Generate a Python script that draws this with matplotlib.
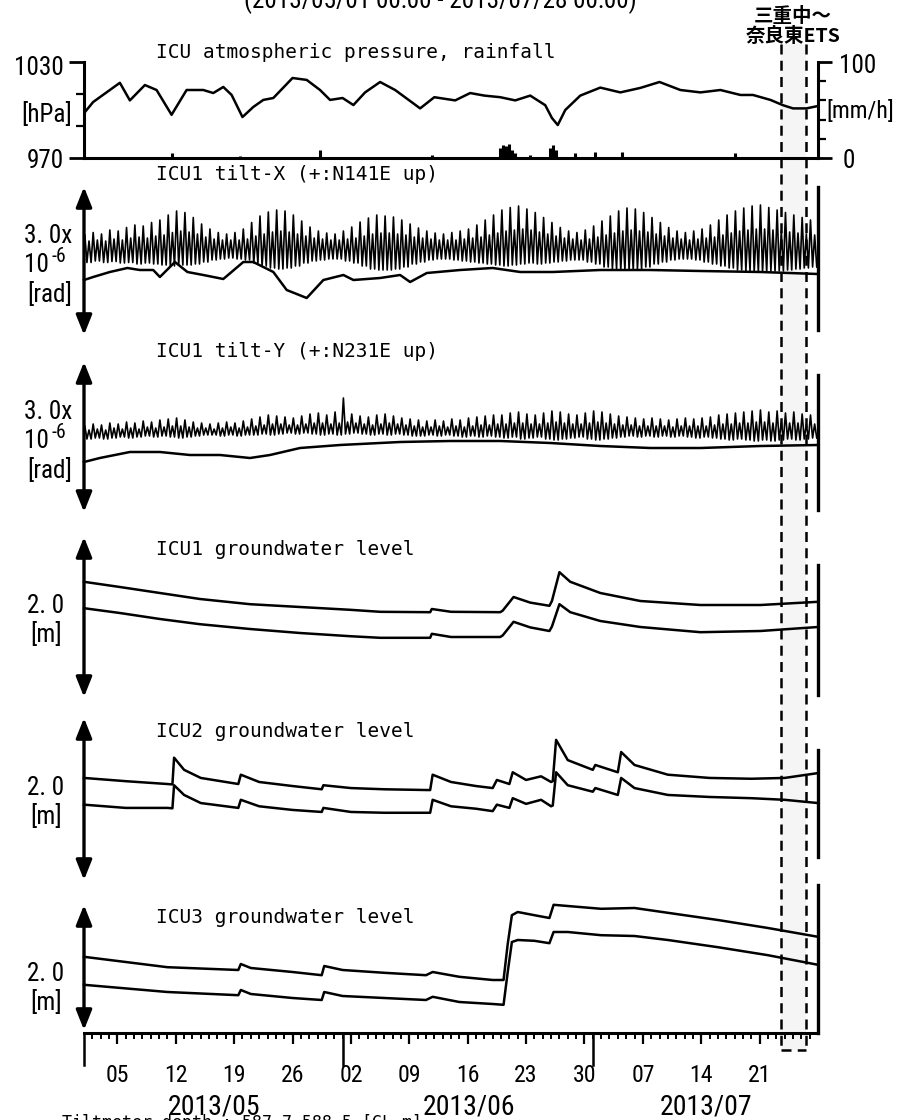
import os
import matplotlib
matplotlib.use('Agg')
import matplotlib.pyplot as plt
import matplotlib.font_manager as fm
import numpy as np
from matplotlib.patches import FancyArrowPatch, Rectangle
from matplotlib.lines import Line2D
from matplotlib.transforms import blended_transform_factory

# ---------------- data ----------------
# time axis: days since 2013/05/01 00:00, up to 2013/07/28 00:00
x_end = 88
week_tick_days = [4, 11, 18, 25, 32, 39, 46, 53, 60, 67, 74, 81]
week_tick_labels = ['05', '12', '19', '26', '02', '09', '16', '23', '30', '07', '14', '21']
month_start_days = [0, 31, 61]
month_labels = ['2013/05', '2013/06', '2013/07']
month_label_days = [15.6, 46.2, 74.6]
ets_start, ets_end = 83.6, 86.6

# atmospheric pressure [hPa]
pres_day = [0, 1.1, 4.3, 5.5, 7.3, 8.7, 10.5, 12.3, 14.3, 15.5, 16.7, 17.7, 19, 20.3, 21.5,
            22.7, 25, 26.7, 28.3, 29.5, 31, 32.3, 33.7, 35.5, 37.3, 39, 40.3, 42, 44.5, 46.3,
            48, 49.9, 51.7, 53.5, 55.3, 56.1, 56.8, 57.7, 59.5, 61.9, 64.3, 66.7, 69, 71.5, 73.9,
            76.3, 78.7, 80.2, 82.3, 83.8, 85, 86.6, 88]
pres_hpa = [998, 1005, 1017, 1006, 1015.6, 1012.5, 997, 1012.5, 1012.5, 1010.6, 1014.4, 1009.4,
            995.6, 1001.9, 1006.3, 1007.5, 1020, 1018.8, 1012.5, 1006.3, 1007.5, 1003.1, 1011,
            1017.5, 1012.5, 1006, 1001, 1008, 1006, 1010.6, 1009, 1008, 1006, 1009, 1003, 995,
            990.6, 1000, 1009, 1014, 1011, 1013.8, 1017.5, 1012.5, 1011, 1012.5, 1009.4, 1009.4,
            1006.3, 1003, 1001, 1001, 1002.5]

# rainfall [mm/h]
rain_day = [10.5, 18.7, 28.3, 41.7, 49.9, 50.2, 50.6, 51.0, 51.3, 51.7, 53.5, 55.9, 56.2, 56.6,
            58.9, 61.3, 64.5, 78.0]
rain_mm = [5, 2, 8, 3, 10, 14, 12, 15, 8, 5, 3, 10, 14, 8, 5, 6, 6, 5]

# tilt-X [micro rad]: daily main high, secondary high and low of the raw record + smoother trace
tiltx_hi = [0.50, 0.55, 0.52, 0.60, 0.58, 0.65, 0.70, 0.68, 0.75, 0.80,
            0.90, 0.98, 0.95, 0.85, 0.72, 0.62, 0.55, 0.52, 0.55, 0.62,
            0.75, 0.88, 0.96, 1.00, 0.98, 0.90, 0.78, 0.66, 0.58, 0.54,
            0.52, 0.58, 0.66, 0.76, 0.84, 0.90, 0.88, 0.86, 0.80, 0.72,
            0.64, 0.58, 0.54, 0.52, 0.55, 0.58, 0.62, 0.70, 0.80, 0.90,
            1.00, 1.05, 1.08, 1.02, 0.95, 0.85, 0.75, 0.65, 0.58, 0.55,
            0.60, 0.68, 0.78, 0.88, 0.98, 1.04, 1.02, 0.95, 0.85, 0.75,
            0.65, 0.58, 0.55, 0.58, 0.62, 0.70, 0.80, 0.90, 0.98, 1.04,
            1.08, 1.10, 1.05, 1.00, 0.95, 0.90, 0.85, 0.80]
tiltx_hi2 = [0.38, 0.40, 0.38, 0.42, 0.40, 0.44, 0.46, 0.44, 0.48, 0.50,
             0.55, 0.58, 0.56, 0.52, 0.46, 0.42, 0.40, 0.40, 0.40, 0.42,
             0.48, 0.52, 0.56, 0.58, 0.56, 0.52, 0.48, 0.44, 0.42, 0.40,
             0.40, 0.42, 0.44, 0.48, 0.52, 0.54, 0.54, 0.52, 0.50, 0.46,
             0.44, 0.42, 0.40, 0.40, 0.40, 0.42, 0.44, 0.46, 0.50, 0.54,
             0.58, 0.60, 0.62, 0.60, 0.56, 0.52, 0.48, 0.44, 0.42, 0.40,
             0.42, 0.46, 0.50, 0.54, 0.58, 0.60, 0.58, 0.56, 0.52, 0.48,
             0.44, 0.42, 0.40, 0.42, 0.44, 0.46, 0.50, 0.54, 0.58, 0.60,
             0.62, 0.62, 0.60, 0.58, 0.56, 0.54, 0.52, 0.50]
tiltx_lo = [-0.05, -0.02, -0.05, -0.03, -0.06, -0.05, -0.08, -0.06, -0.08, -0.10,
            -0.12, -0.10, -0.10, -0.08, -0.04, 0.00, 0.02, 0.04, 0.02, 0.00,
            -0.06, -0.12, -0.16, -0.18, -0.16, -0.12, -0.06, -0.02, 0.00, 0.02,
            0.02, -0.02, -0.06, -0.12, -0.18, -0.20, -0.20, -0.18, -0.14, -0.08,
            -0.04, 0.00, 0.02, 0.02, 0.00, -0.02, -0.04, -0.06, -0.08, -0.10,
            -0.12, -0.10, -0.08, -0.06, -0.08, -0.06, -0.04, -0.02, 0.00, 0.00,
            -0.04, -0.08, -0.14, -0.18, -0.20, -0.20, -0.18, -0.14, -0.08, -0.04,
            0.00, 0.02, 0.02, 0.00, -0.04, -0.08, -0.12, -0.16, -0.20, -0.22,
            -0.24, -0.24, -0.22, -0.22, -0.20, -0.18, -0.16, -0.14]
tiltx_sm_day = [0, 1.1, 3.1, 5.2, 6.7, 8.3, 9.1, 10.9, 12.4, 14.3, 16.7, 19.1, 20.3, 22.7, 24.3,
                26.7, 28.7, 31.1, 32.3, 35.5, 37.9, 39.1, 41.1, 45.1, 49.0, 52.3, 56.2, 61.9,
                67.9, 73.9, 81.1, 88]
tiltx_sm = [-0.40, -0.34, -0.24, -0.16, -0.20, -0.20, -0.34, -0.04, -0.24, -0.30, -0.38, -0.04,
            -0.04, -0.24, -0.60, -0.76, -0.40, -0.30, -0.40, -0.36, -0.30, -0.44, -0.26, -0.20,
            -0.16, -0.24, -0.24, -0.20, -0.20, -0.22, -0.24, -0.28]

# tilt-Y [micro rad]
tilty_hi = [0.22, 0.26, 0.24, 0.28, 0.26, 0.30, 0.28, 0.32, 0.30, 0.34,
            0.36, 0.38, 0.34, 0.30, 0.28, 0.26, 0.28, 0.30, 0.28, 0.32,
            0.36, 0.40, 0.44, 0.42, 0.40, 0.38, 0.42, 0.46, 0.48, 0.44,
            0.50, 0.78, 0.46, 0.42, 0.40, 0.44, 0.46, 0.42, 0.38, 0.36,
            0.34, 0.32, 0.34, 0.32, 0.36, 0.34, 0.38, 0.40, 0.42, 0.44,
            0.44, 0.48, 0.50, 0.46, 0.44, 0.48, 0.52, 0.50, 0.46, 0.44,
            0.48, 0.52, 0.50, 0.46, 0.42, 0.40, 0.38, 0.36, 0.38, 0.36,
            0.34, 0.36, 0.38, 0.36, 0.38, 0.40, 0.44, 0.46, 0.48, 0.50,
            0.52, 0.54, 0.50, 0.52, 0.48, 0.50, 0.46, 0.44]
tilty_hi2 = [0.14, 0.16, 0.14, 0.18, 0.16, 0.18, 0.16, 0.20, 0.18, 0.20,
             0.22, 0.22, 0.20, 0.18, 0.18, 0.16, 0.18, 0.20, 0.18, 0.20,
             0.22, 0.24, 0.26, 0.26, 0.24, 0.24, 0.26, 0.28, 0.28, 0.26,
             0.28, 0.30, 0.28, 0.26, 0.24, 0.26, 0.28, 0.26, 0.24, 0.22,
             0.20, 0.20, 0.22, 0.20, 0.22, 0.20, 0.22, 0.24, 0.24, 0.26,
             0.26, 0.28, 0.28, 0.26, 0.26, 0.28, 0.30, 0.28, 0.26, 0.26,
             0.28, 0.30, 0.28, 0.26, 0.24, 0.24, 0.22, 0.22, 0.22, 0.22,
             0.20, 0.22, 0.22, 0.22, 0.22, 0.24, 0.26, 0.26, 0.28, 0.28,
             0.30, 0.30, 0.28, 0.30, 0.28, 0.28, 0.26, 0.26]
tilty_lo = [-0.04, -0.02, -0.04, -0.02, 0.00, -0.02, 0.00, 0.02, 0.00, 0.02,
            0.00, -0.02, 0.00, 0.02, 0.04, 0.04, 0.02, 0.04, 0.02, 0.04,
            0.04, 0.06, 0.04, 0.06, 0.08, 0.06, 0.08, 0.06, 0.04, 0.06,
            0.04, 0.06, 0.08, 0.06, 0.04, 0.06, 0.04, 0.06, 0.04, 0.02,
            0.02, 0.04, 0.02, 0.04, 0.02, 0.00, 0.02, 0.00, 0.02, 0.00,
            -0.02, 0.00, -0.04, -0.02, 0.00, -0.04, -0.06, -0.04, -0.02, 0.00,
            -0.04, -0.06, -0.04, -0.02, 0.00, 0.02, 0.00, 0.02, 0.00, 0.02,
            0.00, 0.02, 0.00, -0.02, 0.00, -0.02, -0.04, -0.06, -0.04, -0.06,
            -0.08, -0.06, -0.08, -0.06, -0.04, -0.06, -0.04, -0.02]
tilty_sm_day = [0, 1.9, 5.5, 9.1, 12.7, 16.3, 19.9, 22.3, 25.9, 30.7, 37.9, 43.9, 49.9, 55.9,
                61.9, 67.9, 73.9, 81.1, 88]
tilty_sm = [-0.50, -0.42, -0.30, -0.30, -0.36, -0.36, -0.42, -0.36, -0.22, -0.16, -0.10, -0.08,
            -0.08, -0.12, -0.18, -0.22, -0.22, -0.18, -0.16]

# groundwater levels [m] (relative)
gw1_day = [0, 4.3, 9.1, 13.9, 19.9, 25.9, 31.9, 35.5, 41.5, 41.7, 44, 49.9, 50.2, 51.5, 53.5,
           55.8, 56.1, 57, 58.3, 61.9, 66.7, 73.9, 81.1, 88]
gw1_upper = [0.44, 0.375, 0.30, 0.225, 0.16, 0.125, 0.09, 0.065, 0.06, 0.10, 0.065, 0.06, 0.08,
             0.25, 0.18, 0.14, 0.20, 0.56, 0.44, 0.30, 0.20, 0.15, 0.15, 0.19]
gw1_lower = [0.11, 0.05, -0.025, -0.09, -0.15, -0.20, -0.24, -0.26, -0.26, -0.21, -0.25, -0.25,
             -0.23, -0.06, -0.13, -0.175, -0.12, 0.16, 0.06, -0.05, -0.125, -0.19, -0.175, -0.125]

gw2_day = [0, 5, 10, 10.6, 10.8, 12, 14, 18.5, 18.8, 21, 25, 28.5, 28.7, 32, 36, 41.5, 41.8, 44,
           47, 49, 49.5, 51, 51.4, 53, 54.8, 56, 56.2, 56.6, 58, 61, 61.3, 64, 64.4, 66, 70, 75,
           80, 84, 88]
gw2_upper = [0.26, 0.22, 0.185, 0.18, 0.51, 0.36, 0.26, 0.185, 0.30, 0.21, 0.16, 0.12, 0.17,
             0.135, 0.12, 0.11, 0.30, 0.21, 0.16, 0.135, 0.235, 0.185, 0.33, 0.235, 0.28, 0.21,
             0.22, 0.73, 0.48, 0.36, 0.42, 0.33, 0.58, 0.42, 0.30, 0.26, 0.25, 0.26, 0.32]
gw2_lower = [-0.07, -0.11, -0.11, -0.115, 0.17, 0.05, -0.05, -0.11, -0.01, -0.09, -0.135, -0.16,
             -0.11, -0.16, -0.17, -0.17, -0.01, -0.09, -0.12, -0.15, -0.07, -0.11, 0.01, -0.06,
             -0.01, -0.09, -0.08, 0.33, 0.17, 0.09, 0.135, 0.05, 0.26, 0.135, 0.05, 0.025, 0.01,
             -0.01, -0.05]

gw3_day = [0, 10, 18.5, 18.8, 20, 25, 28.5, 28.8, 31, 36, 41, 41.8, 45, 49, 50.3, 50.8, 51.3,
           52, 54, 55.8, 56.3, 58, 62, 66, 70, 76, 82, 88]
gw3_upper = [0.14, 0.01, -0.025, 0.05, 0.0, -0.05, -0.09, 0.025, -0.025, -0.06, -0.09, -0.05,
             -0.11, -0.15, -0.15, 0.30, 0.66, 0.70, 0.66, 0.625, 0.79, 0.775, 0.74, 0.75, 0.69,
             0.60, 0.50, 0.39]
gw3_lower = [-0.21, -0.30, -0.34, -0.275, -0.325, -0.375, -0.40, -0.30, -0.35, -0.375, -0.40,
             -0.36, -0.425, -0.45, -0.46, -0.05, 0.325, 0.35, 0.34, 0.31, 0.45, 0.45, 0.41, 0.40,
             0.35, 0.26, 0.16, 0.04]

panel_titles = ['ICU atmospheric pressure, rainfall', 'ICU1 tilt-X (+:N141E up)',
                'ICU1 tilt-Y (+:N231E up)', 'ICU1 groundwater level',
                'ICU2 groundwater level', 'ICU3 groundwater level']

# ---------------- fonts ----------------
def find_narrow():
    prefs = [('liberationsansnarrow-regular', 1.0), ('notosans-condensed.', 1.0),
             ('robotocondensed-regular', 0.95), ('roboto_condensed-regular', 0.95),
             ('opensans_condensed-regular', 0.95), ('opensans-condensed-regular', 0.95),
             ('dejavusanscondensed.', 0.88)]
    files = [f.fname for f in fm.fontManager.ttflist]
    for p, k in prefs:
        for fn in files:
            if p in os.path.basename(fn).lower():
                return fn, k
    return None, 0.84


NARROW, NSCALE = find_narrow()


def numfont(size):
    if NARROW:
        return fm.FontProperties(fname=NARROW, size=size * NSCALE)
    return fm.FontProperties(family=['Liberation Sans', 'DejaVu Sans'], size=size * NSCALE)


# ---------------- layout ----------------
W, H = 905, 1120
XL, XR = 84, 818
fig = plt.figure(figsize=(W / 100, H / 100), dpi=100)
MONO = ['DejaVu Sans Mono']
CJK = ['Noto Sans CJK JP', 'DejaVu Sans']
LW = 1.8


def T(x, y, s, size, ha='left', va='center', mono=False, **kw):
    if mono:
        return fig.text(x / W, 1 - y / H, s, fontsize=size, ha=ha, va=va, family=MONO, **kw)
    return fig.text(x / W, 1 - y / H, s, ha=ha, va=va, fontproperties=numfont(size), **kw)


def panel(top, bottom, zero_px, px_per_unit):
    ax = fig.add_axes([XL / W, 1 - bottom / H, (XR - XL) / W, (bottom - top) / H])
    ax.set_xlim(0, x_end)
    ax.set_ylim((zero_px - bottom) / px_per_unit, (zero_px - top) / px_per_unit)
    ax.patch.set_visible(False)
    for s in ['top', 'left', 'bottom']:
        ax.spines[s].set_visible(False)
    ax.spines['right'].set_linewidth(2.4)
    ax.set_xticks([])
    ax.set_yticks([])
    return ax


def arrow(y0, y1, x=XL):
    fig.add_artist(FancyArrowPatch((x / W, 1 - y0 / H), (x / W, 1 - y1 / H),
                                   transform=fig.transFigure,
                                   arrowstyle='<|-|>,head_length=0.75,head_width=0.3',
                                   mutation_scale=16, lw=2.4, color='k',
                                   shrinkA=0, shrinkB=0))


def tide(hi, hi2, lo):
    d = np.arange(len(hi))
    t = np.column_stack([d + 0.1, d + 0.35, d + 0.6, d + 0.85]).ravel()
    v = np.column_stack([hi, lo, hi2, lo]).ravel()
    return t, v


# title (cut off at the top of the page)
T(440, 8, '(2013/05/01 00:00 - 2013/07/28 00:00)', 19, ha='center', va='baseline')

# ---- panel 1: pressure + rainfall
ax1 = fig.add_axes([XL / W, 1 - 158 / H, (XR - XL) / W, (158 - 62) / H])
ax1.set_xlim(0, x_end)
ax1.set_ylim(970, 1030)
ax1.patch.set_visible(False)
for s in ['top', 'right']:
    ax1.spines[s].set_visible(False)
ax1.spines['left'].set_linewidth(2.2)
ax1.spines['bottom'].set_linewidth(2.2)
ax1.set_xticks([])
ax1.set_yticks([970, 1030])
ax1.set_yticks([990, 1010], minor=True)
ax1.tick_params(axis='y', which='major', direction='out', length=11, width=2, labelleft=False)
ax1.tick_params(axis='y', which='minor', direction='out', length=6, width=1.6)
ax1.plot(pres_day, pres_hpa, color='k', lw=LW)

ax1r = ax1.twinx()
ax1r.set_ylim(0, 100)
ax1r.set_xlim(0, x_end)
for s in ['top', 'left', 'bottom']:
    ax1r.spines[s].set_visible(False)
ax1r.spines['right'].set_linewidth(2.2)
ax1r.set_yticks([0, 100])
ax1r.set_yticks([20, 40, 60, 80], minor=True)
ax1r.tick_params(axis='y', which='major', direction='out', length=10, width=2, labelright=False)
ax1r.tick_params(axis='y', which='minor', direction='out', length=6, width=1.6)
ax1r.vlines(rain_day, 0, rain_mm, color='k', lw=2.2)

T(64, 68, '1030', 19, ha='right')
T(72, 115, '[hPa]', 19, ha='right')
T(64, 161, '970', 19, ha='right')
T(839, 66, '100', 19)
T(826, 112, '[mm/h]', 18)
T(843, 161, '0', 19)

# ---- panel 2: tilt-X
ax2 = panel(187, 330, zero_px=260, px_per_unit=50)
t, v = tide(tiltx_hi, tiltx_hi2, tiltx_lo)
ax2.plot(t, v, color='k', lw=1.2, clip_on=False)
ax2.plot(tiltx_sm_day, tiltx_sm, color='k', lw=LW, clip_on=False)
arrow(187, 335)

# ---- panel 3: tilt-Y
ax3 = panel(375, 510, zero_px=437, px_per_unit=50)
t, v = tide(tilty_hi, tilty_hi2, tilty_lo)
ax3.plot(t, v, color='k', lw=1.2, clip_on=False)
ax3.plot(tilty_sm_day, tilty_sm, color='k', lw=LW, clip_on=False)
arrow(362, 512)

for yc in (261, 437):
    T(72, yc - 25, '3. 0x', 19, ha='right')
    T(49, yc + 4, '10', 19, ha='right')
    T(51, yc - 5, '-6', 15, ha='left')
    T(72, yc + 33, '[rad]', 19, ha='right')

# ---- panels 4-6: groundwater
ax4 = panel(565, 695, zero_px=617, px_per_unit=80)
ax4.plot(gw1_day, gw1_upper, color='k', lw=LW, clip_on=False)
ax4.plot(gw1_day, gw1_lower, color='k', lw=LW, clip_on=False)
arrow(537, 697)

ax5 = panel(750, 857, zero_px=799, px_per_unit=81)
ax5.plot(gw2_day, gw2_upper, color='k', lw=LW, clip_on=False)
ax5.plot(gw2_day, gw2_lower, color='k', lw=LW, clip_on=False)
arrow(718, 880)

ax6 = panel(885, 1033, zero_px=968, px_per_unit=80)
ax6.plot(gw3_day, gw3_upper, color='k', lw=LW, clip_on=False)
ax6.plot(gw3_day, gw3_lower, color='k', lw=LW, clip_on=False)
arrow(905, 1030)

for yc in (617, 799, 985):
    T(46, yc - 11, '2. 0', 19, ha='center')
    T(46, yc + 17, '[m]', 19, ha='center')

# bottom time axis
ax6.spines['bottom'].set_visible(True)
ax6.spines['bottom'].set_linewidth(2.2)
ax6.set_xticks(week_tick_days)
ax6.set_xticklabels(week_tick_labels, fontproperties=numfont(18))
ax6.set_xticks(np.arange(1, x_end), minor=True)
ax6.tick_params(axis='x', which='major', direction='out', length=8, width=1.6, pad=14)
ax6.tick_params(axis='x', which='minor', direction='out', length=4, width=1.4)
bt = blended_transform_factory(ax6.transData, fig.transFigure)
for d in month_start_days:
    fig.add_artist(Line2D([d, d], [1 - 1033 / H, 1 - 1065 / H], transform=bt, color='k', lw=1.8))
for d, s in zip(month_label_days, month_labels):
    fig.text(d, 1 - 1107 / H, s, transform=bt, ha='center', va='center',
             fontproperties=numfont(21))

# panel titles
for (y, s) in zip([58, 180, 357, 555, 737, 923], panel_titles):
    T(156, y, s, 14, va='baseline', mono=True)

# ETS window
ets_y0, ets_y1 = 1 - 44 / H, 1 - 1050 / H
for d in (ets_start, ets_end):
    fig.add_artist(Line2D([d, d], [ets_y0, ets_y1], transform=bt, color='k', lw=1.8,
                          linestyle=(0, (4, 2.5))))
fig.add_artist(Line2D([ets_start, ets_end], [ets_y1, ets_y1], transform=bt, color='k', lw=1.8,
                      linestyle=(0, (4, 2.5))))
fig.add_artist(Rectangle((ets_start, ets_y1), ets_end - ets_start, ets_y0 - ets_y1, transform=bt,
                         facecolor='#f5f5f5', edgecolor='none', zorder=-5))
fig.text(793 / W, 1 - 16 / H, '三重中～', fontsize=14, ha='center', va='center',
         family=CJK, weight='bold')
fig.text(793 / W, 1 - 36 / H, '奈良東ETS', fontsize=14, ha='center', va='center',
         family=CJK, weight='bold')

# bottom note (cut off)
T(62, 1114, 'Tiltmeter depth : 587.7-588.5 [GL-m]', 12, va='top', mono=True)

fig.savefig('out.png', dpi=100)
